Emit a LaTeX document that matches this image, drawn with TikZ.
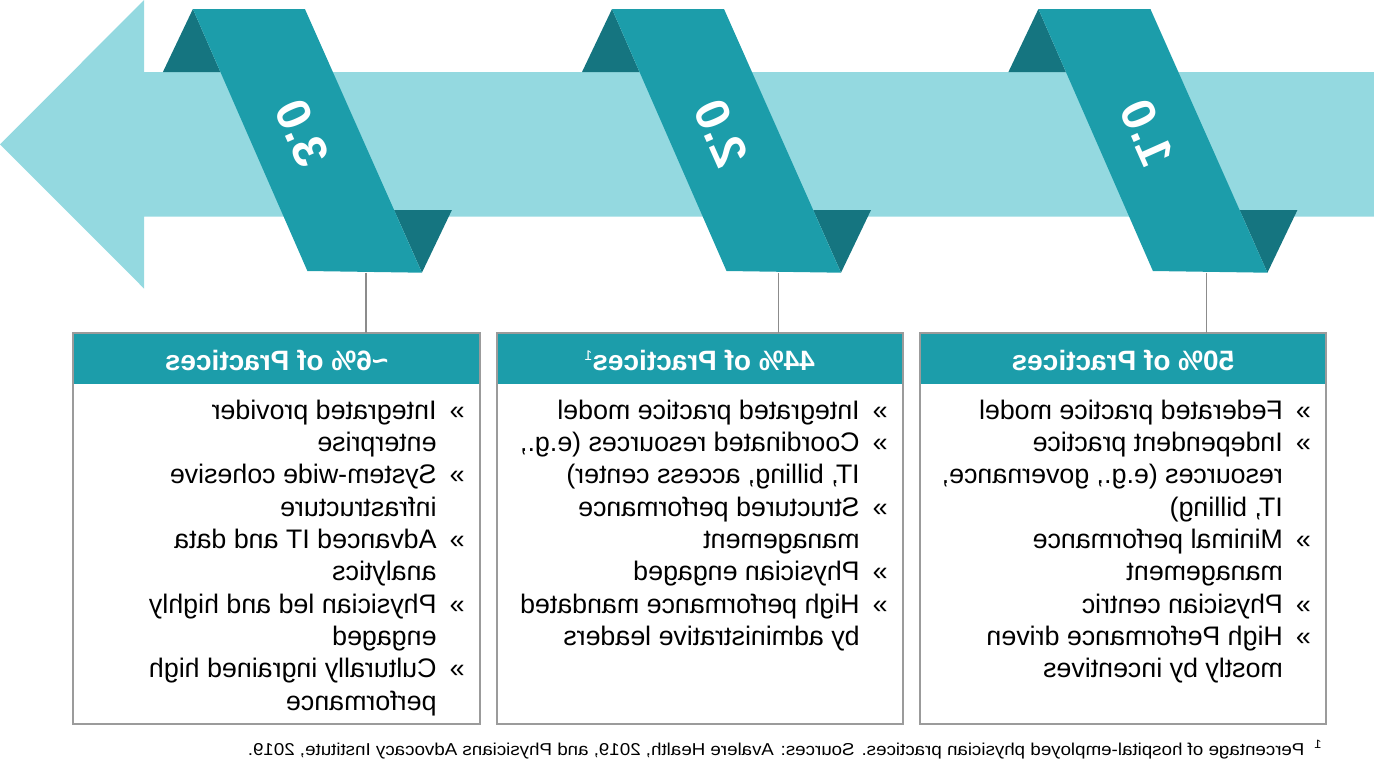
\documentclass[tikz,border=0pt]{standalone}
\usepackage{fontspec}
\setmainfont{Liberation Sans}
\usetikzlibrary{positioning,calc}
\definecolor{arrowblue}{HTML}{94D9E0}
\definecolor{ribbonteal}{HTML}{1C9DAA}
\definecolor{folddark}{HTML}{157580}
\definecolor{framegray}{HTML}{9B9B9B}
\definecolor{linkgray}{HTML}{8C8C8C}

\tikzset{
  infobox/.style={draw=framegray, line width=1pt, minimum width=203.3pt, minimum height=195.7pt, inner sep=0pt, outer sep=0pt},
  headbar/.style={fill=ribbonteal, text=white, font=\fontsize{14}{14}\selectfont\bfseries, minimum width=202.3pt, minimum height=25pt, inner sep=0pt, text height=11pt, text depth=0pt, anchor=north, xscale=-1},
  itemlist/.style={inner sep=0pt, anchor=base west, xscale=-1, font=\fontsize{13.4}{16.15}\selectfont},
  ribnum/.style={text=white, font=\fontsize{24}{24}\selectfont\bfseries, inner sep=0pt, xscale=-1, rotate=66},
  link/.style={draw=linkgray, line width=0.6pt},
}
\newcommand{\bul}{\makebox[14pt][l]{»}}
\newcommand{\smallsup}[1]{\raisebox{5pt}{\fontsize{7}{7}\selectfont\mdseries #1}}

\begin{document}
\begin{tikzpicture}[x=0.5pt, y=-0.5pt]
\useasboundingbox (0,0) rectangle (1374,772);

% Big arrow pointing left
\fill[arrowblue] (0,144.3) -- (144.2,0) -- (144.2,72) -- (1374,72) -- (1374,216.7)
  -- (144.2,216.7) -- (144.2,288.7) -- cycle;

% Ribbons wound round the arrow
\foreach \x/\num/\n in {192.9/3.0/3, 612/2.0/2, 1038.4/1.0/1}{
  \fill[folddark] (\x,9) -- (\x-30,72) -- (\x+27.5,72) -- cycle;
  \fill[folddark] (\x+201.2,210) -- (\x+259,210) -- (\x+229,272.7) -- cycle;
  \fill[ribbonteal] (\x,9) -- (\x+112,9) -- (\x+229,272.7) -- (\x+114.5,271) -- cycle;
  \node[ribnum] (num\n) at (\x+109,133) {\num};
}
\coordinate (foot3) at (366,272.5);
\coordinate (foot2) at (778.7,272.5);
\coordinate (foot1) at (1206.7,272.5);

% Boxes
\node[infobox, anchor=north west] (box3) at (73.3,332.7) {};
\node[infobox, right=8.3pt of box3] (box2) {};
\node[infobox, right=8.3pt of box2] (box1) {};

\node[headbar] (head3) at ([yshift=-0.5pt]box3.north) {\textasciitilde6\% of Practices};
\node[headbar] (head2) at ([yshift=-0.5pt]box2.north) {44\% of Practices\smallsup{1}};
\node[headbar] (head1) at ([yshift=-0.5pt]box1.north) {50\% of Practices};

\node[itemlist] (list3) at ([xshift=-7.5pt,yshift=-43.3pt]box3.north east) {%
\begin{tabular}[t]{@{}l@{}l@{}}
\bul & Integrated provider\\
 & enterprise\\
\bul & System-wide cohesive\\
 & infrastructure\\
\bul & Advanced IT and data\\
 & analytics\\
\bul & Physician led and highly\\
 & engaged\\
\bul & Culturally ingrained high\\
 & performance
\end{tabular}};

\node[itemlist] (list2) at ([xshift=-7.5pt,yshift=-43.3pt]box2.north east) {%
\begin{tabular}[t]{@{}l@{}l@{}}
\bul & Integrated practice model\\
\bul & Coordinated resources (e.g.,\\
 & IT, billing, access center)\\
\bul & Structured performance\\
 & management\\
\bul & Physician engaged\\
\bul & High performance mandated\\
 & by administrative leaders
\end{tabular}};

\node[itemlist] (list1) at ([xshift=-7.5pt,yshift=-43.3pt]box1.north east) {%
\begin{tabular}[t]{@{}l@{}l@{}}
\bul & Federated practice model\\
\bul & Independent practice\\
 & resources (e.g., governance,\\
 & IT, billing)\\
\bul & Minimal performance\\
 & management\\
\bul & Physician centric\\
\bul & High Performance driven\\
 & mostly by incentives
\end{tabular}};

% Connectors
\draw[link] (foot3) -- (foot3 |- box3.north);
\draw[link] (foot2) -- (foot2 |- box2.north);
\draw[link] (foot1) -- (foot1 |- box1.north);

% Footnote
\node[inner sep=0pt, anchor=base west, xscale=-1.09, font=\fontsize{8.6}{10}\selectfont] (note) at (1322,755.7)
  {\textsuperscript{1}\hspace{4pt}Percentage of hospital-employed physician practices. Sources: Avalere Health, 2019, and Physicians Advocacy Institute, 2019.};
\end{tikzpicture}
\end{document}
